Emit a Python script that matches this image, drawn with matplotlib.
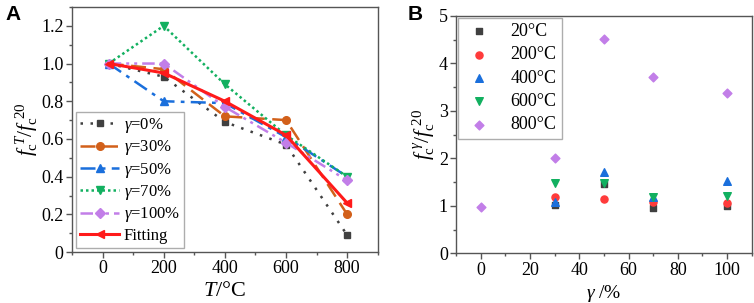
import matplotlib
matplotlib.use("Agg")
import matplotlib.pyplot as plt
from matplotlib.ticker import MultipleLocator

plt.rcParams['font.family'] = ['Liberation Serif', 'DejaVu Serif']
plt.rcParams['mathtext.fontset'] = 'custom'
plt.rcParams['mathtext.rm'] = 'Liberation Serif'
plt.rcParams['mathtext.it'] = 'Liberation Serif:italic'
plt.rcParams['mathtext.bf'] = 'Liberation Serif:bold'

# Panel A data
temps = [20, 200, 400, 600, 800]
g0 = [1.0, 0.93, 0.69, 0.57, 0.09]
g30 = [1.0, 0.97, 0.72, 0.70, 0.20]
g50 = [1.0, 0.80, 0.79, 0.61, 0.40]
g70 = [1.0, 1.20, 0.89, 0.62, 0.40]
g100 = [1.0, 1.00, 0.77, 0.58, 0.38]
fitting = [1.0, 0.95, 0.80, 0.62, 0.26]
labels_a = ['$\\gamma$=0%', '$\\gamma$=30%', '$\\gamma$=50%', '$\\gamma$=70%', '$\\gamma$=100%', 'Fitting']

# Panel B data
gam_all = [0, 30, 50, 70, 100]
gam = [30, 50, 70, 100]
t20 = [1.02, 1.46, 0.95, 0.99]
t200 = [1.18, 1.15, 1.08, 1.06]
t400 = [1.08, 1.72, 1.19, 1.53]
t600 = [1.49, 1.49, 1.18, 1.20]
t800 = [0.98, 2.00, 4.52, 3.71, 3.37]
labels_b = ['20°C', '200°C', '400°C', '600°C', '800°C']

fig = plt.figure(figsize=(7.54, 3.03), dpi=100)
axA = fig.add_axes([0.0955, 0.168, 0.4055, 0.809])
axB = fig.add_axes([0.605, 0.164, 0.392, 0.784])

c_gray = '#404040'
c_orange = '#d2601a'
c_blue = '#1a6fdc'
c_green = '#12b060'
c_purple = '#c27ee8'
c_red = '#ff1a1a'

axA.plot(temps, g0, color=c_gray, ls=(0, (1, 3)), lw=1.8, marker='s', ms=5, label=labels_a[0])
axA.plot(temps, g30, color=c_orange, ls=(0, (6, 3)), lw=1.8, marker='o', ms=5.5, label=labels_a[1])
axA.plot(temps, g50, color=c_blue, ls=(0, (6, 2.5, 1.5, 2.5)), lw=1.8, marker='^', ms=6, label=labels_a[2])
axA.plot(temps, g70, color=c_green, ls=(0, (1, 1.2)), lw=1.8, marker='v', ms=6, label=labels_a[3])
axA.plot(temps, g100, color=c_purple, ls=(0, (5, 2, 1.2, 2, 1.2, 2)), lw=1.8, marker='D', ms=5, label=labels_a[4])
axA.plot(temps, fitting, color=c_red, ls='-', lw=2.2, marker='<', ms=6, label=labels_a[5])

axA.set_xlim(-100, 900)
axA.set_ylim(0, 1.3)
axA.set_xticks([0, 200, 400, 600, 800])
axA.xaxis.set_minor_locator(MultipleLocator(100))
axA.set_yticks([0, 0.2, 0.4, 0.6, 0.8, 1.0, 1.2])
axA.set_yticklabels(['0', '0.2', '0.4', '0.6', '0.8', '1.0', '1.2'])
axA.yaxis.set_minor_locator(MultipleLocator(0.1))
axA.set_xlabel('$T$/°C', fontsize=16, labelpad=3)
axA.set_ylabel('$f_{\\mathrm{c}}^{\\ T}/f_{\\mathrm{c}}^{\\ 20}$', fontsize=15.5, labelpad=1)
legA = axA.legend(loc='lower left', fontsize=12, frameon=True, fancybox=False,
                  edgecolor='#999999', handlelength=2.3, handletextpad=0.3, labelspacing=0.2,
                  borderpad=0.25, borderaxespad=0.25)
legA.get_frame().set_linewidth(1.0)

axB.scatter(gam, t20, color=c_gray, marker='s', s=22, label=labels_b[0], zorder=3)
axB.scatter(gam, t200, color='#ff3b3b', marker='o', s=26, label=labels_b[1], zorder=3)
axB.scatter(gam, t400, color=c_blue, marker='^', s=30, label=labels_b[2], zorder=3)
axB.scatter(gam, t600, color=c_green, marker='v', s=30, label=labels_b[3], zorder=3)
axB.scatter(gam_all, t800, color=c_purple, marker='D', s=20, label=labels_b[4], zorder=3)

axB.set_xlim(-10, 110)
axB.set_ylim(0, 5)
axB.set_xticks([0, 20, 40, 60, 80, 100])
axB.xaxis.set_minor_locator(MultipleLocator(10))
axB.set_yticks([0, 1, 2, 3, 4, 5])
axB.yaxis.set_minor_locator(MultipleLocator(0.5))
axB.set_xlabel('$\\gamma$ /%', fontsize=14, labelpad=3)
axB.set_ylabel('$f_{\\mathrm{c}}^{\\ \\gamma}/f_{\\mathrm{c}}^{\\ 20}$', fontsize=15.5, labelpad=1)
legB = axB.legend(loc='upper left', fontsize=13, frameon=True, fancybox=False, edgecolor='#999999',
                  handlelength=1.7, handletextpad=0.9, labelspacing=0.35, borderpad=0.3,
                  borderaxespad=0.1, scatterpoints=1)
legB.get_frame().set_linewidth(1.0)

for ax in (axA, axB):
    for sp in ax.spines.values():
        sp.set_color('#555555')
        sp.set_linewidth(1.0)
    ax.tick_params(which='major', direction='out', length=4, width=1, color='#555555', labelsize=13, pad=2)
    ax.tick_params(which='minor', direction='out', length=2.5, width=1, color='#555555')

fig.text(0.007, 0.935, 'A', fontsize=15, fontweight='bold', family='Liberation Sans')
fig.text(0.541, 0.935, 'B', fontsize=15, fontweight='bold', family='Liberation Sans')

fig.savefig('out.png', dpi=100)
